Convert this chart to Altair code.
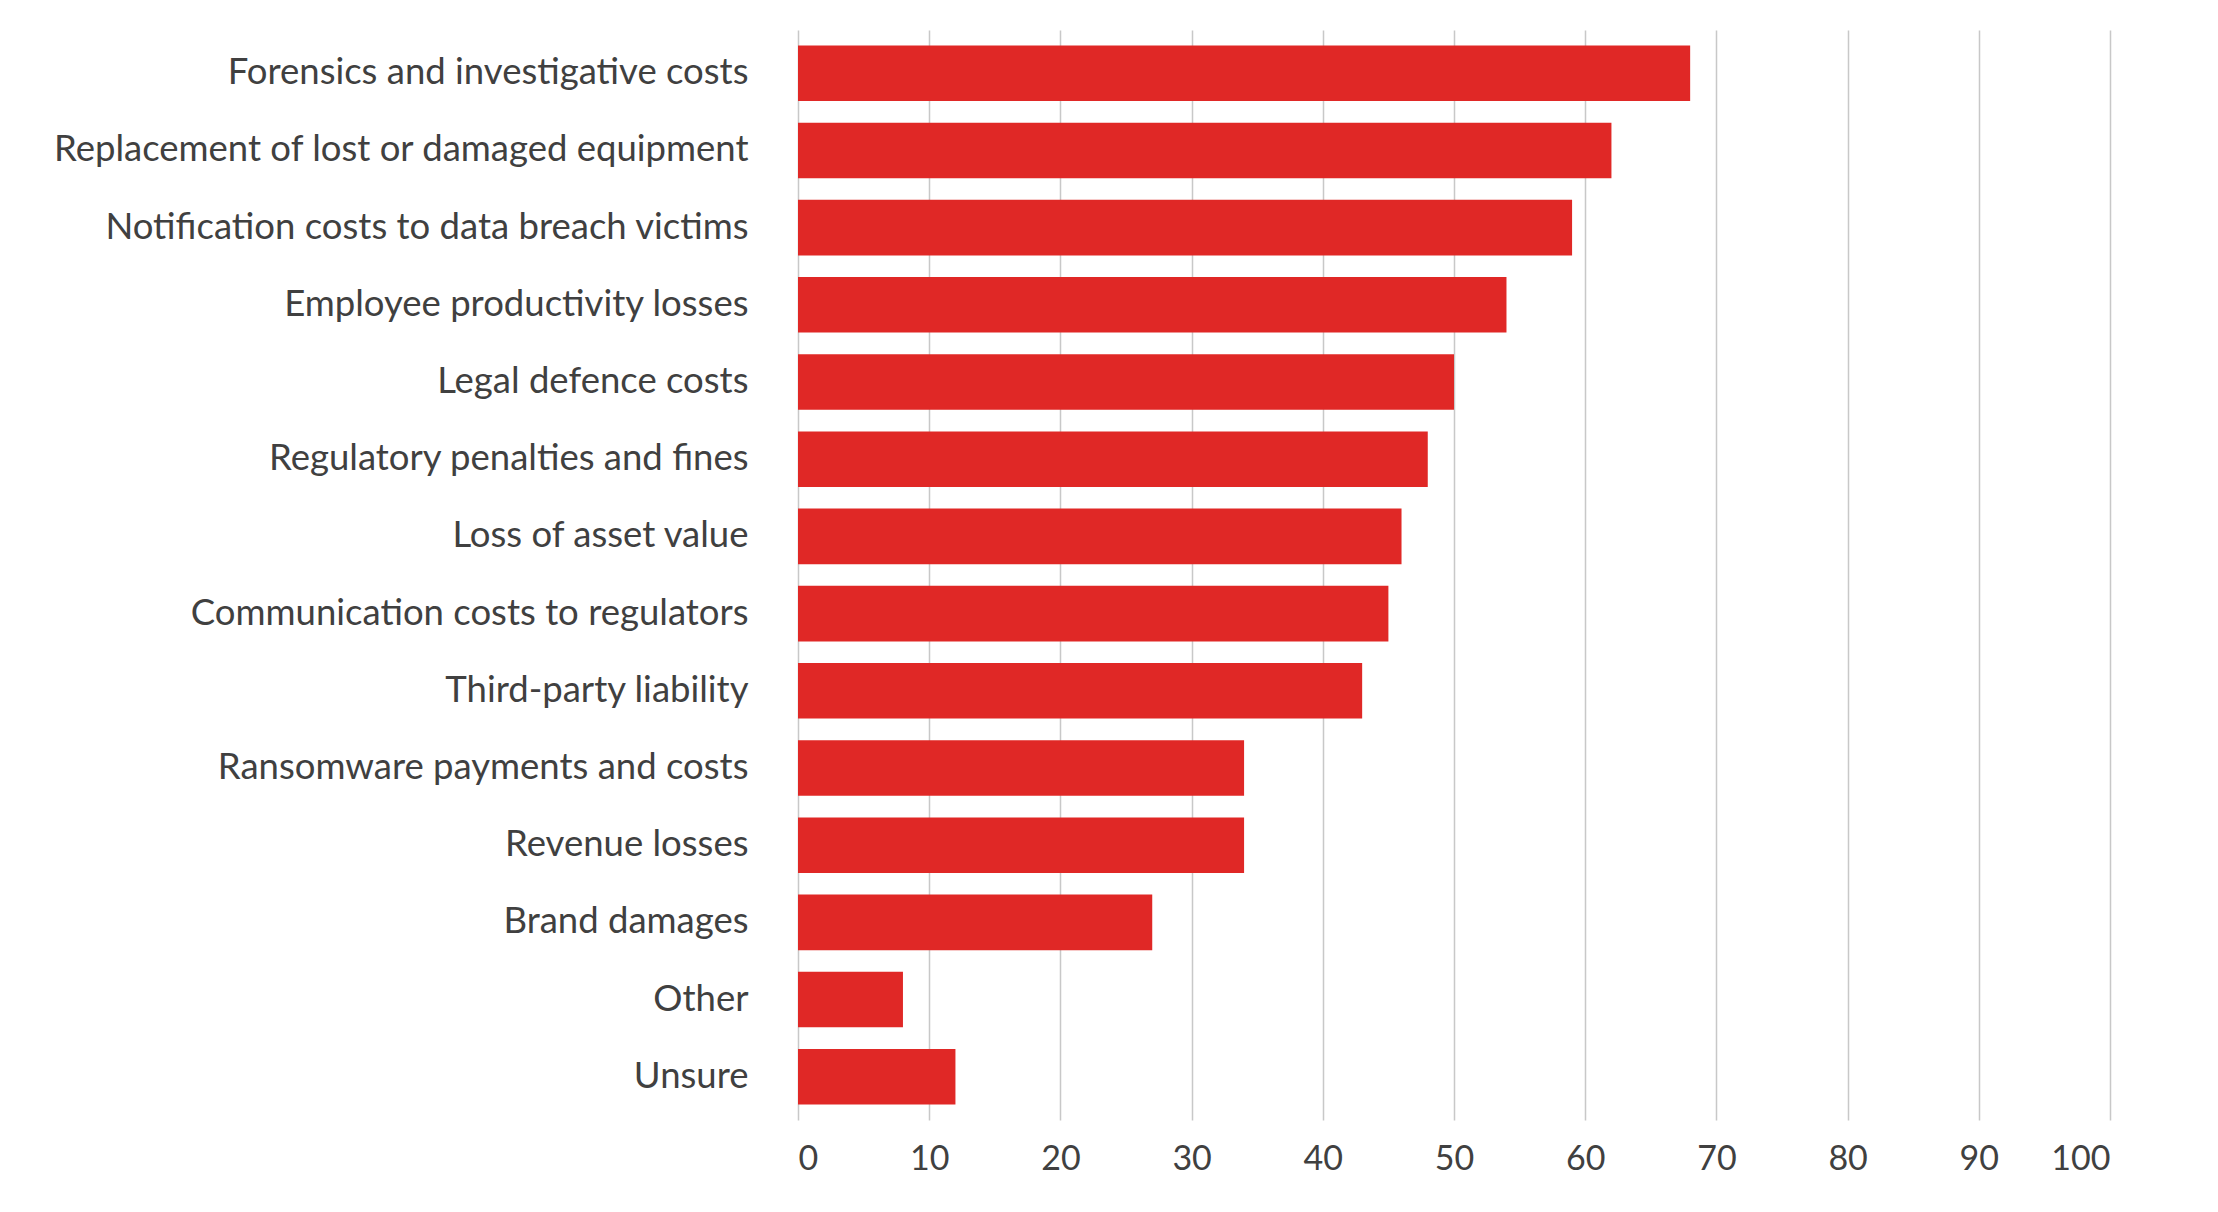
import pandas as pd
import altair as alt

categories = [
    "Forensics and investigative costs",
    "Replacement of lost or damaged equipment",
    "Notification costs to data breach victims",
    "Employee productivity losses",
    "Legal defence costs",
    "Regulatory penalties and fines",
    "Loss of asset value",
    "Communication costs to regulators",
    "Third-party liability",
    "Ransomware payments and costs",
    "Revenue losses",
    "Brand damages",
    "Other",
    "Unsure",
]
values = [68, 62, 59, 54, 50, 48, 46, 45, 43, 34, 34, 27, 8, 12]

df = pd.DataFrame({"Category": categories, "Value": values})

chart = alt.Chart(df).mark_bar(color="#E02826").encode(
    x=alt.X("Value:Q", title=None,
            scale=alt.Scale(domain=[0, 100], nice=False),
            axis=alt.Axis(values=list(range(0, 101, 10)), grid=True, gridColor="#C8C8C8",
                          gridWidth=1.5, domain=False, ticks=False, labelPadding=22,
                          labelFontSize=34, labelColor="#404040", labelFont="Lato")),
    y=alt.Y("Category:N", sort=categories, title=None,
            scale=alt.Scale(paddingInner=0.28, paddingOuter=0.2),
            axis=alt.Axis(ticks=False, domain=False, labelPadding=50, labelFontSize=36.5,
                          labelColor="#404040", labelFont="Lato", labelLimit=800)),
).properties(
    width=1312,
    height=1090,
    padding={"left": 44, "top": 22, "right": 5, "bottom": 5},
).configure_view(stroke=None)

chart.save("out.html", embed_options={"renderer": "svg", "actions": False})
